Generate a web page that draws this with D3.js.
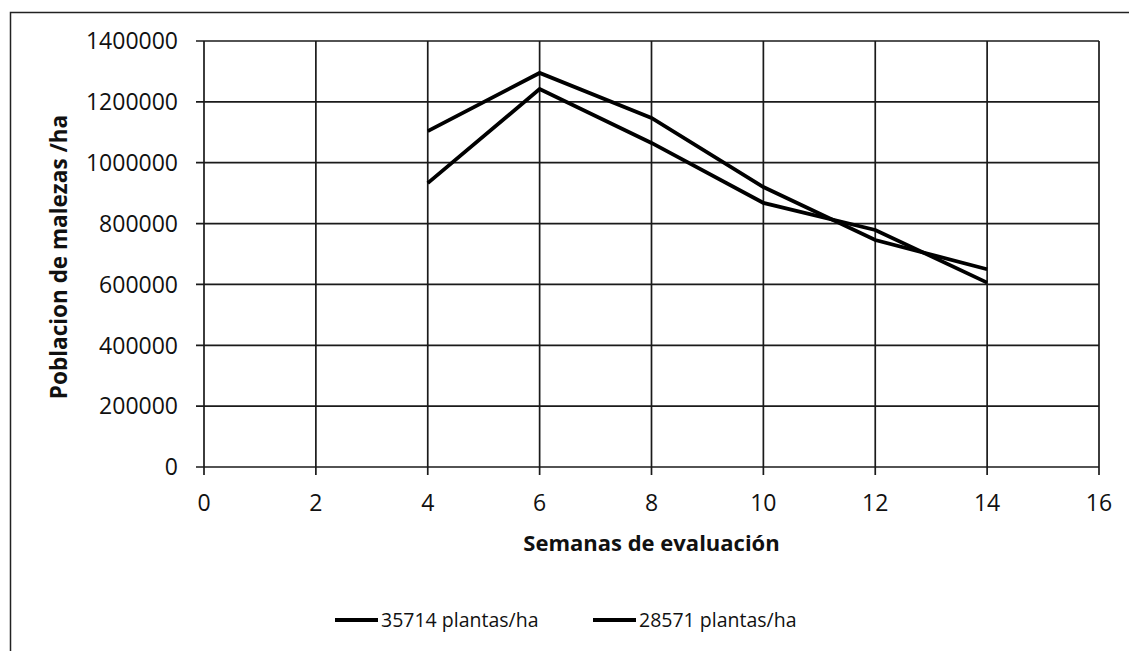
<!DOCTYPE html>
<html>
<head>
<meta charset="utf-8">
<script src="https://cdn.jsdelivr.net/npm/d3@7"></script>
<style>
  body { margin: 0; background: #fff; }
  text { font-family: "Open Sans", sans-serif; fill: #111; }
</style>
</head>
<body>
<div id="chart"></div>
<script>
// weeks of evaluation
var weeks = [4, 6, 8, 10, 12, 14];
// weed population per ha, one array per planting density
var dens35714 = [1104000, 1295000, 1147000, 920000, 746000, 650000];
var dens28571 = [933000, 1242000, 1065000, 868000, 779000, 606000];
var seriesNames = ["35714 plantas/ha", "28571 plantas/ha"];
var xTicks = [0, 2, 4, 6, 8, 10, 12, 14, 16];
var yTicks = [0, 200000, 400000, 600000, 800000, 1000000, 1200000, 1400000];

var width = 1129, height = 651;

var svg = d3.select("#chart").append("svg")
    .attr("width", width)
    .attr("height", height);

// outer frame (scanned page border, only top and left visible)
svg.append("path")
    .attr("d", "M10.5,651 V12.5 H1129")
    .attr("fill", "none")
    .attr("stroke", "#222")
    .attr("stroke-width", 1.5);

var x = d3.scaleLinear().domain([0, 16]).range([204, 1099]);
var y = d3.scaleLinear().domain([0, 1400000]).range([467, 41]);

// gridlines + tick marks
svg.append("g").selectAll("line")
    .data(yTicks)
    .enter().append("line")
    .attr("x1", x(0) - 8).attr("x2", x(16))
    .attr("y1", function (d) { return y(d); })
    .attr("y2", function (d) { return y(d); })
    .attr("stroke", "#1a1a1a").attr("stroke-width", 1.7);

svg.append("g").selectAll("line")
    .data(xTicks)
    .enter().append("line")
    .attr("y1", y(1400000)).attr("y2", y(0) + 8)
    .attr("x1", function (d) { return x(d); })
    .attr("x2", function (d) { return x(d); })
    .attr("stroke", "#1a1a1a").attr("stroke-width", 1.7);

// tick labels
svg.append("g").selectAll("text")
    .data(yTicks)
    .enter().append("text")
    .attr("x", x(0) - 26)
    .attr("y", function (d) { return y(d); })
    .attr("dy", "0.36em")
    .attr("text-anchor", "end")
    .style("font-size", "23px")
    .text(function (d) { return d; });

svg.append("g").selectAll("text")
    .data(xTicks)
    .enter().append("text")
    .attr("x", function (d) { return x(d); })
    .attr("y", y(0) + 44)
    .attr("text-anchor", "middle")
    .style("font-size", "23px")
    .text(function (d) { return d; });

// axis titles
svg.append("text")
    .attr("x", (x(0) + x(16)) / 2)
    .attr("y", 551)
    .attr("text-anchor", "middle")
    .style("font-size", "22px")
    .style("font-weight", "bold")
    .text("Semanas de evaluación");

svg.append("text")
    .attr("transform", "translate(67,257) rotate(-90)")
    .attr("text-anchor", "middle")
    .style("font-size", "22.5px")
    .style("font-weight", "bold")
    .text("Poblacion de malezas /ha");

// series lines
var line = d3.line()
    .x(function (d) { return x(d[0]); })
    .y(function (d) { return y(d[1]); });

[dens35714, dens28571].forEach(function (vals) {
    svg.append("path")
        .datum(d3.zip(weeks, vals))
        .attr("d", line)
        .attr("fill", "none")
        .attr("stroke", "#000")
        .attr("stroke-width", 3.8);
});

// legend
var legend = svg.append("g").selectAll("g")
    .data(seriesNames)
    .enter().append("g")
    .attr("transform", function (d, i) { return "translate(" + (335 + i * 258) + ",620)"; });

legend.append("line")
    .attr("x1", 0).attr("x2", 43)
    .attr("stroke", "#000").attr("stroke-width", 3.8);

legend.append("text")
    .attr("x", 46)
    .attr("dy", "0.36em")
    .style("font-size", "19.5px")
    .text(function (d) { return d; });
</script>
</body>
</html>
